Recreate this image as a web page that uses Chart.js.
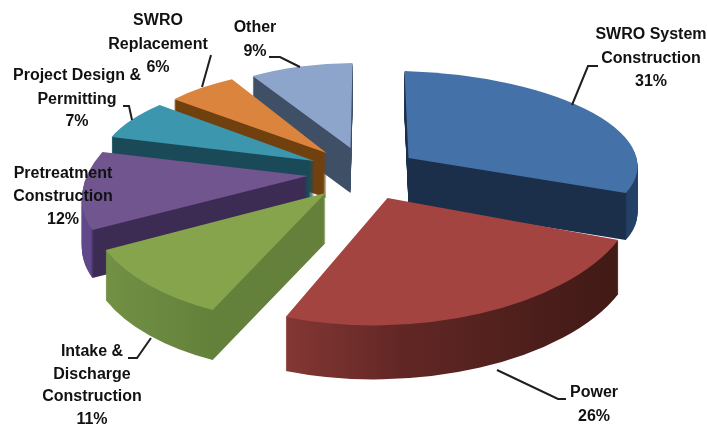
<!DOCTYPE html>
<html lang="en">
<head>
    <meta charset="UTF-8" />
    <title>Desalination cost breakdown</title>
    <script src="https://cdn.jsdelivr.net/npm/chart.js"></script>
    <style>
        html, body { margin: 0; padding: 0; background: #fff; }
        canvas { display: block; }
    </style>
</head>
<body>
    <canvas id="costChart" width="707" height="426"></canvas>

    <script>
        // chart data, clockwise from 12 o'clock
        const categories = ["SWRO System Construction", "Power", "Intake & Discharge Construction",
            "Pretreatment Construction", "Project Design & Permitting", "SWRO Replacement", "Other"];
        const shares = [31, 26, 11, 12, 7, 6, 9];

        // how the names wrap on the picture
        const nameLines = [["SWRO System", "Construction"], ["Power"], ["Intake &", "Discharge", "Construction"],
            ["Pretreatment", "Construction"], ["Project Design &", "Permitting"], ["SWRO", "Replacement"], ["Other"]];

        const topColors = ["#4472a8", "#a44441", "#86a44c", "#70558f", "#3b96ae", "#da843e", "#8ea5cb"];

        // wall colours as gradient stops across the pie, left to right
        const wallStops = [
            [[0, "#1b2f4a"], [0.97, "#1b2f4a"], [0.975, "#234066"], [1, "#234066"]],
            [[0, "#843734"], [0.32, "#843734"], [0.55, "#622725"], [0.95, "#421a16"], [1, "#421a16"]],
            [[0, "#769547"], [0.32, "#64813b"], [1, "#65803d"]],
            [[0, "#60498a"], [0.06, "#60498a"], [0.07, "#3c2b52"], [1, "#3c2b52"]],
            [[0, "#1a4a58"], [1, "#1a4a58"]],
            [[0, "#71400f"], [1, "#71400f"]],
            [[0, "#3f4f66"], [1, "#3f4f66"]]
        ];

        // 3D view of each exploded slice: shift from the pie centre and a 2x2 projection for unit radius
        const sliceViews = [
            { dx: 55, dy: -55, a: 229, b: 6.5, c: 4, d: 87, depth: 47 },
            { dx: 34, dy: -15, a: 249.2, b: -0.4, c: -12.6, d: 127.4, depth: 54 },
            { dx: -28, dy: -20, a: 237, b: 8.6, c: -29.2, d: 128.8, depth: 50 },
            { dx: -46, dy: -37, a: 220.5, b: 0.6, c: -48.2, d: 109.1, depth: 48 },
            { dx: -39, dy: -52, a: 213.2, b: 5.9, c: -25.3, d: 85, depth: 42 },
            { dx: -27, dy: -60, a: 201, b: 3.6, c: -13.3, d: 84.6, depth: 45 },
            { dx: -3, dy: -65, a: 189.2, b: -0.5, c: -2, d: 85, depth: 45 }
        ];
        const drawOrder = [0, 6, 5, 4, 3, 2, 1]; // back to front

        // label placement: centre x and the middle y of every line
        const labelX = [651, 594, 92, 63, 77, 158, 255];
        const labelY = [[35, 59, 82], [393, 417], [352, 375, 397, 420], [174, 197, 220], [76, 100, 122], [21, 45, 68], [28, 52]];

        const leaderLines = [
            [[572, 105], [588, 66], [598, 66]],
            [[497, 370], [558, 399], [566, 399]],
            [[151, 338], [137, 358], [128, 358]],
            [[123, 106], [129, 106], [132, 120]],
            [[211, 55], [202, 87]],
            [[269, 57], [280, 57], [300, 67]]
        ];

        // apply a slice's projection, with the extra screen drop used for the walls
        function applyView(ctx, arc, view, drop) {
            const R = arc.outerRadius;
            ctx.translate(arc.x + view.dx, arc.y + view.dy + drop);
            ctx.transform(view.a / R, view.b / R, view.c / R, view.d / R, 0, 0);
            ctx.translate(-arc.x, -arc.y);
        }

        const pie3d = {
            id: "pie3d",
            beforeDatasetsDraw(chart) {
                const ctx = chart.ctx;
                const arcs = chart.getDatasetMeta(0).data;

                drawOrder.forEach((i) => {
                    const arc = arcs[i];
                    const view = sliceViews[i];
                    const options = arc.options;

                    const wall = ctx.createLinearGradient(arc.x - arc.outerRadius, 0, arc.x + arc.outerRadius, 0);
                    wallStops[i].forEach(([pos, color]) => wall.addColorStop(pos, color));

                    // stack copies of the arc downwards to make the walls
                    arc.options = { ...options, backgroundColor: wall };
                    for (let drop = view.depth; drop > 0; drop--) {
                        ctx.save();
                        applyView(ctx, arc, view, drop);
                        arc.draw(ctx);
                        ctx.restore();
                    }
                    arc.options = options;

                    ctx.save();
                    applyView(ctx, arc, view, 0);
                    arc.draw(ctx);
                    ctx.restore();
                });
                return false; // slices are already drawn
            },
            afterDraw(chart) {
                const ctx = chart.ctx;
                ctx.save();

                ctx.strokeStyle = "#1f1f1f";
                ctx.lineWidth = 2;
                leaderLines.forEach((line) => {
                    ctx.beginPath();
                    line.forEach(([x, y], i) => (i ? ctx.lineTo(x, y) : ctx.moveTo(x, y)));
                    ctx.stroke();
                });

                ctx.fillStyle = "#111";
                ctx.font = "bold 16px 'Liberation Sans'";
                ctx.textAlign = "center";
                ctx.textBaseline = "middle";
                categories.forEach((name, i) => {
                    const lines = [...nameLines[i], shares[i] + "%"];
                    lines.forEach((text, j) => ctx.fillText(text, labelX[i], labelY[i][j]));
                });
                ctx.restore();
            }
        };

        new Chart(document.getElementById("costChart"), {
            type: "pie",
            data: {
                labels: categories,
                datasets: [{ data: shares, backgroundColor: topColors, borderWidth: 0 }]
            },
            options: {
                responsive: false,
                animation: false,
                events: [],
                plugins: { legend: { display: false }, tooltip: { enabled: false } }
            },
            plugins: [pie3d]
        });
    </script>
</body>
</html>
